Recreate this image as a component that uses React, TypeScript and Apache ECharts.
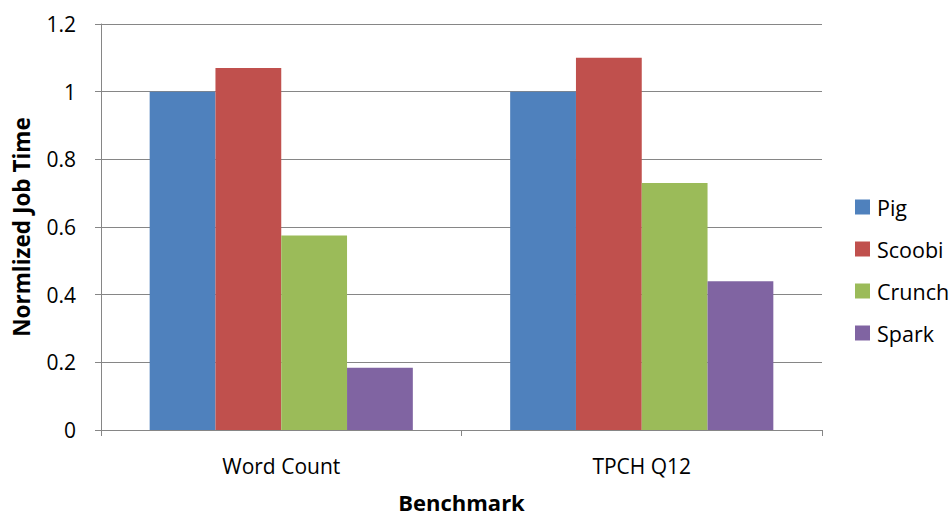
import React, { useEffect, useRef } from "react";
import * as echarts from "echarts";

const categories = ["Word Count", "TPCH Q12"];
const seriesNames = ["Pig", "Scoobi", "Crunch", "Spark"];
const pig = [1.0, 1.0];
const scoobi = [1.07, 1.1];
const crunch = [0.575, 0.73];
const spark = [0.184, 0.44];
const colors = ["#4F81BD", "#C0504D", "#9BBB59", "#8064A2"];
const yTicks = [0, 0.2, 0.4, 0.6, 0.8, 1, 1.2];

const FONT = "'Open Sans', 'Noto Sans', sans-serif";

export default function App() {
  const ref = useRef<HTMLDivElement>(null);
  useEffect(() => {
    if (!ref.current) return;
    const chart = echarts.init(ref.current, undefined, { renderer: "svg" });
    const data = [pig, scoobi, crunch, spark];
    chart.setOption({
      animation: false,
      backgroundColor: "#ffffff",
      textStyle: { fontFamily: FONT },
      grid: { left: 101, right: 130, top: 24, bottom: 85, containLabel: false },
      legend: {
        orient: "vertical",
        left: 850,
        top: 191,
        itemWidth: 15,
        itemHeight: 15,
        itemGap: 20,
        icon: "rect",
        textStyle: { fontSize: 21.5, color: "#000", fontFamily: FONT, padding: [0, 0, 0, 2] },
        data: seriesNames,
      },
      xAxis: {
        type: "category",
        data: categories,
        name: "Benchmark",
        nameLocation: "middle",
        nameGap: 61,
        nameTextStyle: { fontSize: 22, fontWeight: "bold", color: "#000", fontFamily: FONT },
        axisLine: { lineStyle: { color: "#868686", width: 1 } },
        axisTick: { show: true, length: 6, lineStyle: { color: "#868686" } },
        axisLabel: { fontSize: 21, color: "#000", margin: 25, fontFamily: FONT },
      },
      yAxis: {
        type: "value",
        min: 0,
        max: 1.2,
        interval: 0.2,
        name: "Normlized Job Time",
        nameLocation: "middle",
        nameGap: 68,
        nameRotate: 90,
        nameTextStyle: { fontSize: 22.5, fontWeight: "bold", color: "#000", fontFamily: FONT },
        axisLine: { show: true, lineStyle: { color: "#868686" } },
        axisTick: { show: true, length: 6, inside: false, lineStyle: { color: "#868686" } },
        splitLine: { show: true, lineStyle: { color: "#868686", width: 1 } },
        axisLabel: {
          fontSize: 21,
          color: "#000",
          margin: 25,
          fontFamily: FONT,
          formatter: (v: number) => {
            const t = yTicks.find((x) => Math.abs(x - v) < 1e-9);
            return String(t !== undefined ? parseFloat(t.toFixed(1)) : v);
          },
        },
      },
      series: seriesNames.map((name, i) => ({
        name,
        type: "bar",
        data: data[i],
        barGap: "0%",
        barCategoryGap: "27%",
        itemStyle: { color: colors[i] },
      })),
    });
    return () => chart.dispose();
  }, []);
  return <div ref={ref} style={{ width: 952, height: 518, position: "absolute", left: 0, top: 0 }} />;
}
